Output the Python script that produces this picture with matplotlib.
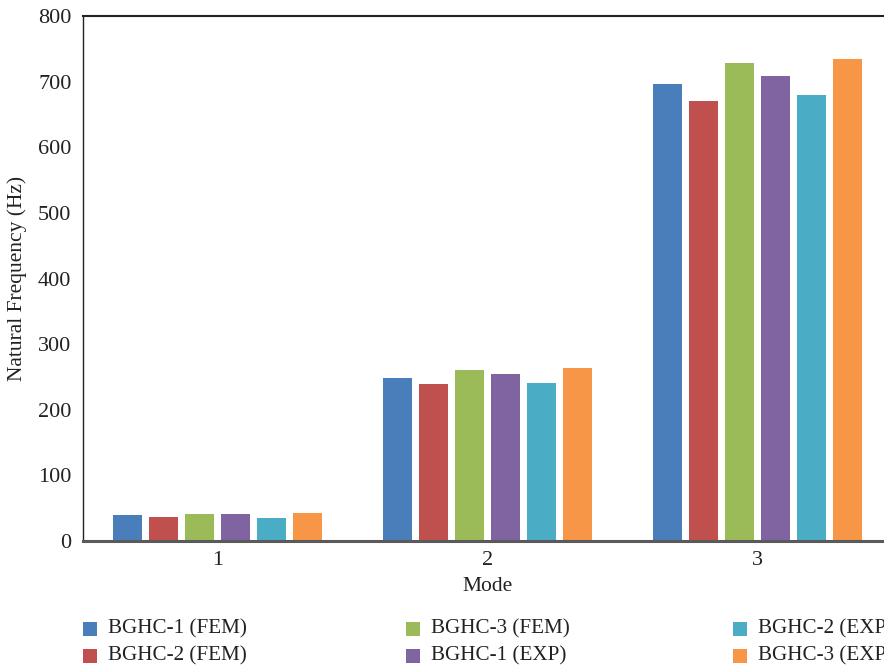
import matplotlib
matplotlib.use('Agg')
import matplotlib.pyplot as plt
import matplotlib.patches as patches
import numpy as np

plt.rcParams['font.family'] = ['Liberation Serif', 'DejaVu Serif']

# Natural frequencies (Hz) for the first three modes
modes = ['1', '2', '3']
series_names = ['BGHC-1 (FEM)', 'BGHC-2 (FEM)', 'BGHC-3 (FEM)',
                'BGHC-1 (EXP)', 'BGHC-2 (EXP)', 'BGHC-3 (EXP)']
bghc1_fem = [40, 249, 697]
bghc2_fem = [36, 240, 671]
bghc3_fem = [41, 261, 729]
bghc1_exp = [41, 255, 708]
bghc2_exp = [35, 241, 680]
bghc3_exp = [43, 264, 735]
series_values = [bghc1_fem, bghc2_fem, bghc3_fem, bghc1_exp, bghc2_exp, bghc3_exp]
colors = ['#4A7EBB', '#C0504D', '#9BBB59', '#8064A2', '#4BACC6', '#F79646']

W, H = 884, 669
fig = plt.figure(figsize=(W / 100, H / 100), dpi=100)
# plot area runs past the right edge of the canvas
ax = fig.add_axes([82.5 / W, 128 / H, 810 / W, 525 / H])

x = np.arange(len(modes))
pitch = 36 / 270
width = 29 / 270
for i, (vals, c) in enumerate(zip(series_values, colors)):
    ax.bar(x + (i - 2.5) * pitch, vals, width=width, color=c, zorder=2)

ax.set_xlim(-0.5, 2.5)
ax.set_ylim(0, 800)
ax.set_yticks(range(0, 801, 100))
ax.set_xticks(x)
ax.set_xticklabels(modes)
ax.tick_params(length=0, labelsize=16, colors='#222222')
ax.tick_params(axis='y', pad=8)
ax.tick_params(axis='x', pad=7)

ax.spines['left'].set_color('#222222')
ax.spines['left'].set_linewidth(1.0)
ax.spines['top'].set_color('#222222')
ax.spines['top'].set_linewidth(1.5)
ax.spines['bottom'].set_color('#5a5a5a')
ax.spines['bottom'].set_linewidth(2.2)
ax.spines['bottom'].set_zorder(3)
ax.spines['right'].set_visible(False)

ax.set_ylabel('Natural Frequency (Hz)', fontsize=15.5, color='#222222', labelpad=8)
ax.set_xlabel('Mode', fontsize=15.5, color='#222222', labelpad=5)

# legend drawn by hand in three columns, cut off at the right edge
col_x = [83, 406, 733]
row_y = [629, 656]
sq = 14
for k, (name, c) in enumerate(zip(series_names, colors)):
    col, row = k // 2, k % 2
    cx, cy = col_x[col], row_y[row]
    fig.add_artist(patches.Rectangle((cx / W, 1 - (cy + sq / 2) / H), sq / W, sq / H,
                                     transform=fig.transFigure, facecolor=c,
                                     edgecolor='none'))
    fig.text((cx + 25) / W, 1 - cy / H, name, fontsize=15.2, color='#222222',
             va='center', ha='left')

fig.savefig('out.png', dpi=100, facecolor='white')
